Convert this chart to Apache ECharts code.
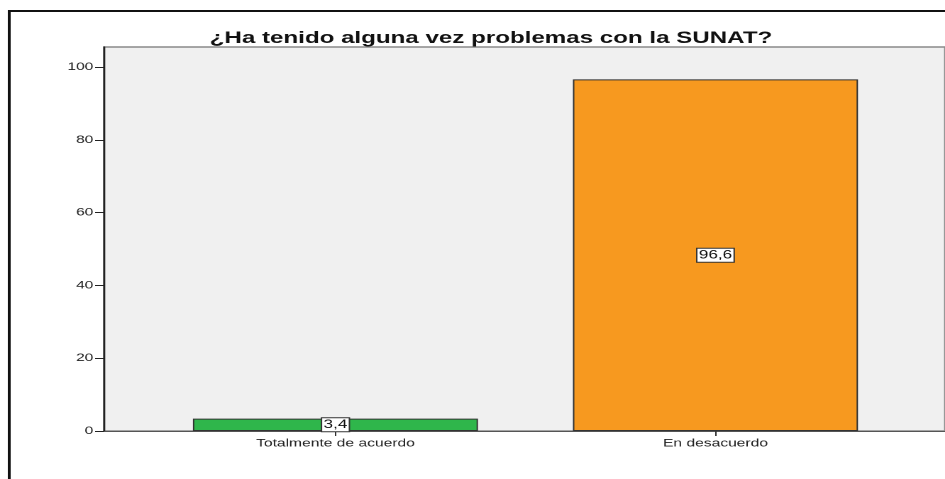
<!DOCTYPE html>
<html>
<head>
<meta charset="utf-8">
<script src="https://cdn.jsdelivr.net/npm/echarts@6/dist/echarts.min.js"></script>
<style>
  html, body { margin: 0; padding: 0; background: #fff; overflow: hidden; }
  /* the original picture is stretched sideways, so the chart is drawn narrow and scaled */
  #chart { width: 666px; height: 479px; transform: scaleX(1.419); transform-origin: 0 0; }
</style>
</head>
<body>
<div id="chart"></div>
<script>
const categories = ['Totalmente de acuerdo', 'En desacuerdo']
const percentages = [3.4, 96.6]
const barColors = ['#2fb64b', '#f7991f']
const yTicks = [0, 20, 40, 60, 80, 100]

const chart = echarts.init(document.getElementById('chart'), null, { devicePixelRatio: 2 })

const fmt = v => String(v).replace('.', ',')

chart.setOption({
  animation: false,
  title: {
    text: '¿Ha tenido alguna vez problemas con la SUNAT?',
    left: 341,
    top: 25,
    textAlign: 'center',
    textStyle: { fontFamily: 'Liberation Sans', fontWeight: 'bold', fontSize: 17, color: '#111' }
  },
  graphic: [{
    type: 'rect',
    shape: { x: 6.5, y: 11, width: 800, height: 600 },
    style: { fill: 'none', stroke: '#111', lineWidth: 2 },
    z: 100
  }],
  grid: [
    // plot background, runs off the right edge like the original
    { left: 73.3, top: 47, right: -10, bottom: 48, show: true, backgroundColor: '#f0f0f0', borderColor: '#8a8a8a', borderWidth: 1.5 },
    { left: 102.5, width: 535.6, top: 47, bottom: 48 }
  ],
  xAxis: [
    {
      gridIndex: 0, type: 'value', min: 0, max: 1,
      axisLine: { show: true, lineStyle: { color: '#555', width: 1 } },
      axisTick: { show: false }, axisLabel: { show: false }, splitLine: { show: false }
    },
    {
      gridIndex: 1, type: 'category', data: categories,
      axisLine: { show: false },
      axisTick: { show: true, alignWithLabel: true, length: 5, lineStyle: { color: '#333' } },
      axisLabel: { fontFamily: 'Liberation Sans', fontSize: 11, color: '#222', margin: 7 }
    }
  ],
  yAxis: [
    { gridIndex: 0, type: 'value', show: false },
    {
      gridIndex: 1, type: 'value', min: 0, max: 105.5, offset: 29.2,
      axisLine: { show: true, lineStyle: { color: '#222', width: 1.3 } },
      axisTick: { show: true, length: 6.3, customValues: yTicks, lineStyle: { color: '#222' } },
      axisLabel: { customValues: yTicks, fontFamily: 'Liberation Sans', fontSize: 11, color: '#222', margin: 7.5 },
      splitLine: { show: false }
    }
  ],
  series: [{
    type: 'bar',
    xAxisIndex: 1,
    yAxisIndex: 1,
    barWidth: 200.9,
    data: percentages.map((v, i) => ({
      value: v,
      itemStyle: { color: barColors[i], borderColor: '#333', borderWidth: 1 }
    })),
    label: {
      show: true,
      position: 'inside',
      formatter: p => fmt(p.value),
      fontFamily: 'Liberation Sans',
      fontSize: 12,
      color: '#111',
      backgroundColor: '#fff',
      borderColor: '#333',
      borderWidth: 1,
      padding: [1, 1, 0, 1]
    }
  }]
})
</script>
</body>
</html>
